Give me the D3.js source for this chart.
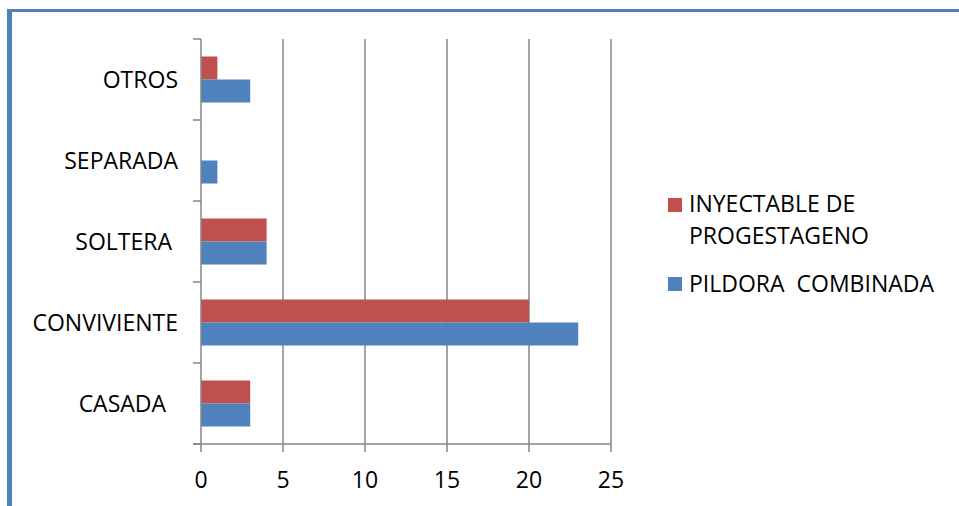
<!DOCTYPE html>
<html><head><meta charset="utf-8">
<script src="https://cdn.jsdelivr.net/npm/d3@7"></script>
<style>body{margin:0;background:#fff}svg{display:block}text{font-family:"Open Sans","Liberation Sans",sans-serif;fill:#000}</style>
</head><body><svg id="c" width="959" height="506"></svg>
<script>
const categories = ["OTROS", "SEPARADA", "SOLTERA ", "CONVIVIENTE", "CASADA  "];
const inyectable = [1, 0, 4, 20, 3];
const pildora = [3, 1, 4, 23, 3];
const xTicks = [0, 5, 10, 15, 20, 25];
const seriesNames = ["INYECTABLE DE PROGESTAGENO", "PILDORA  COMBINADA"];
const colors = ["#C0504D", "#4F81BD"];
const FS = 23;

const svg = d3.select("#c");
// frame
svg.append("rect").attr("x",7).attr("y",9).attr("width",5).attr("height",497).attr("fill","#4F81BD");
svg.append("rect").attr("x",7).attr("y",9).attr("width",952).attr("height",3).attr("fill","#4F81BD");

const x = d3.scaleLinear().domain([0,25]).range([201,611]);
const y = d3.scaleBand().domain(categories).range([39,444]);
const inner = d3.scaleBand().domain([0,1]).range([0,y.bandwidth()]).paddingOuter(0.76).paddingInner(0);

// gridlines
svg.append("g").selectAll("line").data(xTicks.slice(1)).join("line")
  .attr("x1",d=>x(d)).attr("x2",d=>x(d)).attr("y1",39).attr("y2",444)
  .attr("stroke","#868686").attr("stroke-width",1.5);

const series = [inyectable, pildora];
series.forEach((vals,si)=>{
  svg.append("g").selectAll("rect").data(vals).join("rect")
    .attr("x",x(0)).attr("y",(d,i)=>y(categories[i])+inner(si))
    .attr("width",d=>x(d)-x(0)).attr("height",inner.bandwidth())
    .attr("fill",colors[si]);
});

// y axis
const ya = svg.append("g");
ya.append("line").attr("x1",201).attr("x2",201).attr("y1",39).attr("y2",444).attr("stroke","#868686").attr("stroke-width",1.5);
const yTickPos = categories.map(c=>y(c)).concat([444]);
ya.selectAll("line.t").data(yTickPos).join("line").attr("class","t")
  .attr("x1",193).attr("x2",201).attr("y1",d=>d).attr("y2",d=>d).attr("stroke","#868686").attr("stroke-width",1.5);
ya.selectAll("text").data(categories).join("text")
  .attr("x",178).attr("y",d=>y(d)+y.bandwidth()/2+8.5)
  .attr("text-anchor","end").attr("font-size",FS).style("white-space","pre").text(d=>d);

// x axis
const xa = svg.append("g");
xa.append("line").attr("x1",193).attr("x2",611).attr("y1",444).attr("y2",444).attr("stroke","#868686").attr("stroke-width",1.5);
xa.selectAll("line.t").data(xTicks).join("line").attr("class","t")
  .attr("x1",d=>x(d)).attr("x2",d=>x(d)).attr("y1",444).attr("y2",452).attr("stroke","#868686").attr("stroke-width",1.5);
xa.selectAll("text").data(xTicks).join("text")
  .attr("x",d=>x(d)).attr("y",488).attr("text-anchor","middle").attr("font-size",FS).text(d=>d);

// legend
const lg = svg.append("g");
lg.append("rect").attr("x",668).attr("y",198).attr("width",14).attr("height",14).attr("fill",colors[0]);
lg.append("text").attr("x",689).attr("y",212).attr("font-size",FS).text("INYECTABLE DE");
lg.append("text").attr("x",689).attr("y",244).attr("font-size",FS).text("PROGESTAGENO");
lg.append("rect").attr("x",668).attr("y",277).attr("width",14).attr("height",14).attr("fill",colors[1]);
lg.append("text").attr("x",689).attr("y",292).attr("font-size",FS).style("white-space","pre").text(seriesNames[1]);
</script></body></html>
